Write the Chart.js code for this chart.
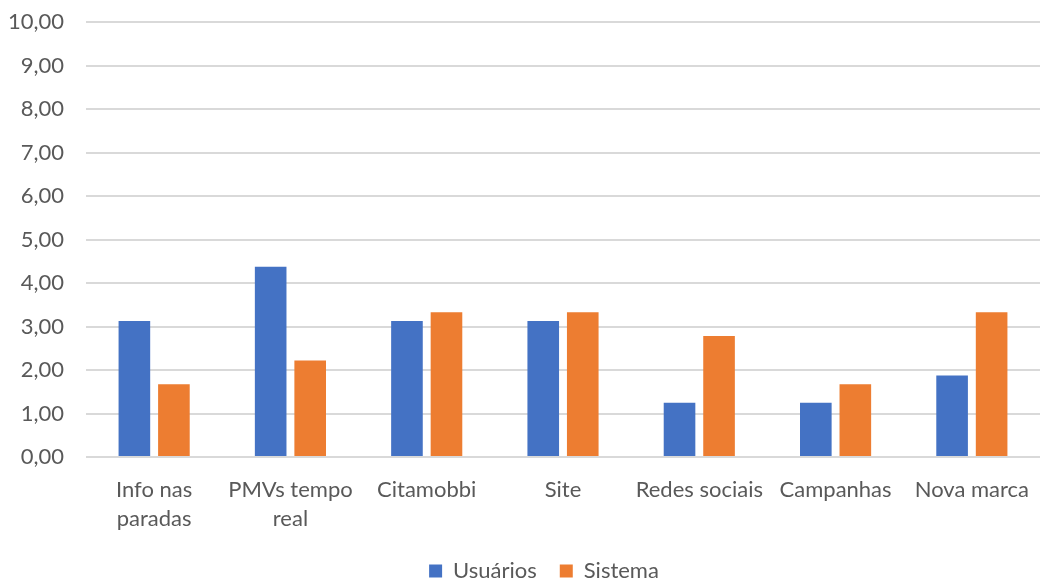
<!DOCTYPE html>
<html>
<head>
<meta charset="utf-8">
<script src="https://cdn.jsdelivr.net/npm/chart.js@4"></script>
<style>
  html, body { margin: 0; padding: 0; background: #fff; overflow: hidden; }
  #wrap { width: 1040px; height: 583px; }
  canvas { display: block; }
</style>
</head>
<body>
<div id="wrap"><canvas id="chart"></canvas></div>
<script>
'use strict';

// categories, split where the original label wraps
var categories = [
  ['Info nas', 'paradas'],
  ['PMVs tempo', 'real'],
  'Citamobbi',
  'Site',
  'Redes sociais',
  'Campanhas',
  'Nova marca'
];

var usuarios = [3.125, 4.375, 3.125, 3.125, 1.25, 1.25, 1.875];
var sistema  = [1.67, 2.22, 3.33, 3.33, 2.78, 1.67, 3.33];

var seriesNames = ['Usuários', 'Sistema'];
var colors = ['#4472C4', '#ED7D31'];

var yMin = 0;
var yMax = 10;
var yStep = 1;

var fontFamily = 'Lato, "Open Sans", sans-serif';
var fontSize = 22;
var textColor = '#595959';

// the original legend sits a bit right of the canvas centre
var legendShift = {
  id: 'legendShift',
  afterLayout: function (chart) {
    if (chart.legend) chart.legend.left += 48;
  }
};

var ctx = document.getElementById('chart').getContext('2d');

var chart = new Chart(ctx, {
  type: 'bar',
  data: {
    labels: categories,
    datasets: [
      {
        label: seriesNames[0],
        data: usuarios,
        backgroundColor: colors[0],
        categoryPercentage: 0.58,
        barPercentage: 0.8
      },
      {
        label: seriesNames[1],
        data: sistema,
        backgroundColor: colors[1],
        categoryPercentage: 0.58,
        barPercentage: 0.8
      }
    ]
  },
  options: {
    responsive: true,
    maintainAspectRatio: false,
    animation: false,
    layout: {
      padding: { top: 22, right: 0, bottom: -9, left: 0 }
    },
    plugins: {
      legend: {
        position: 'bottom',
        labels: {
          color: textColor,
          font: { family: fontFamily, size: fontSize },
          boxWidth: 13,
          boxHeight: 13,
          padding: 23
        }
      },
      tooltip: { enabled: false }
    },
    scales: {
      x: {
        grid: { display: false, drawTicks: false },
        border: { display: false },
        ticks: {
          color: textColor,
          font: { family: fontFamily, size: fontSize, lineHeight: 1.32 },
          padding: 18,
          maxRotation: 0,
          autoSkip: false
        },
        afterFit: function (scale) {
          scale.height = 80;
          scale.paddingLeft = 0;
          scale.paddingRight = 0;
        }
      },
      y: {
        min: yMin,
        max: yMax,
        grid: { color: '#D9D9D9', lineWidth: 2, drawTicks: false },
        border: { display: false },
        ticks: {
          stepSize: yStep,
          color: textColor,
          font: { family: fontFamily, size: fontSize },
          padding: 22,
          callback: function (v) { return v.toFixed(2).replace('.', ','); }
        },
        afterFit: function (scale) {
          scale.width = 86;
          scale.paddingTop = 0;
          scale.paddingBottom = 0;
        }
      }
    }
  },
  plugins: [legendShift]
});
</script>
</body>
</html>
